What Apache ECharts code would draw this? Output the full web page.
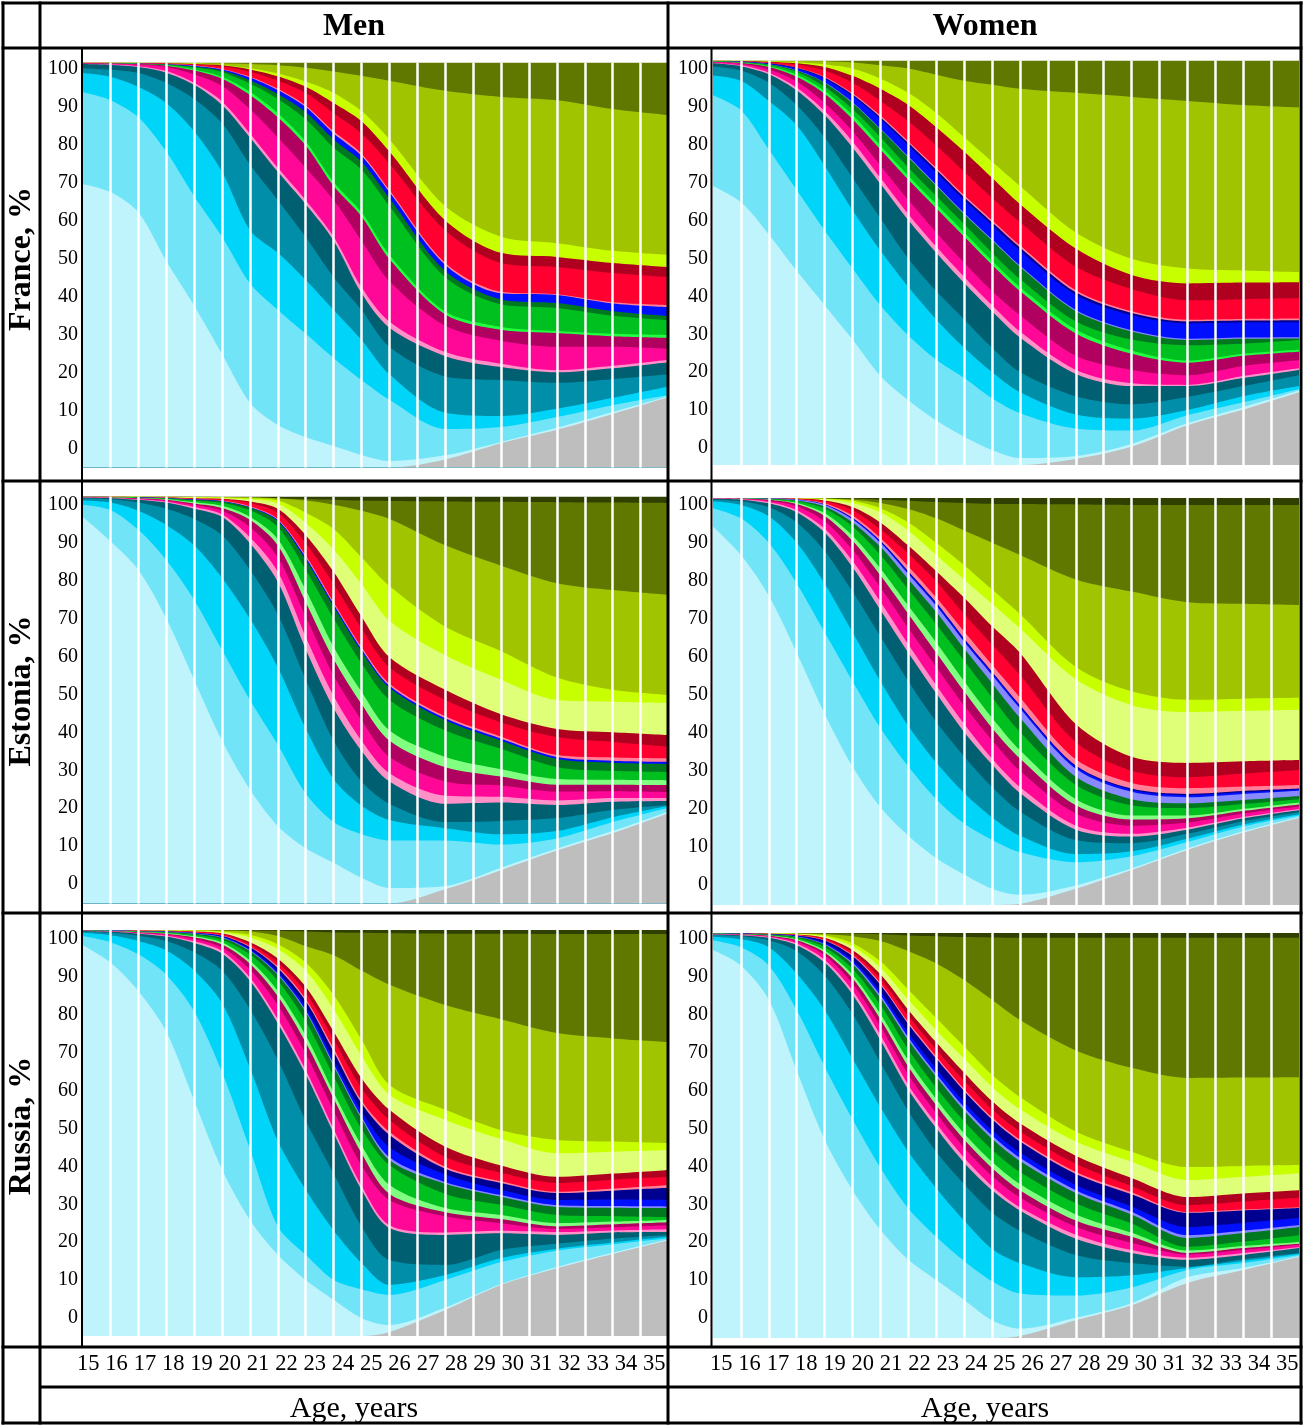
<!DOCTYPE html>
<html>
<head>
<meta charset="utf-8">
<script src="https://cdn.jsdelivr.net/npm/echarts@6/dist/echarts.min.js"></script>
<style>
html, body { margin: 0; padding: 0; background: #fff; }
#main { width: 1303px; height: 1425px; }
</style>
</head>
<body>
<div id="main"></div>
<script>
// ages at which the shares were read (year boundaries)
var ages = [15, 16, 17, 18, 19, 20, 21, 22, 23, 24, 25, 26, 28, 30, 32, 34, 36];
var ageLabels = ['15','16','17','18','19','20','21','22','23','24','25','26','27','28','29','30','31','32','33','34','35'];
var yTickValues = [0, 10, 20, 30, 40, 50, 60, 70, 80, 90, 100];

// cumulative share (%) at the top of each state, bottom state first
var franceMen = [
    ['grey',          [0,0,0,0,0,0,0,0,0,0,0,0,2,6,9.3,13.2,17.4]],
    ['veryLightCyan', [70,68,63,51,40,28,16,10.5,7.5,5.3,3.1,1.6,3,6.3,9.8,13.7,17.6]],
    ['lightCyan',     [92.7,90.7,86.5,78,67,57,45.5,38.9,33,27,21.6,16.7,9.5,10,12.5,15.4,17.9]],
    ['cyan',          [97.4,96.5,94,90,83,73,58.6,53,46.3,38.9,31.5,23,13.5,12.7,14.5,17.2,20]],
    ['teal',          [98.6,98.2,97.4,95,91,85,74.8,66,56.9,47,38.9,29.8,22.5,21.6,20.9,21.8,23]],
    ['darkTeal',      [99.6,99.4,98.9,97.5,94.5,89.5,81.5,73,65,56,43,34.5,27.5,24.8,23.5,24.5,26]],
    ['lightPink',     [99.65,99.5,99.1,97.9,95,90.4,82.5,74,66,57,44.5,36,28.5,25.6,24,25.1,26.6]],
    ['hotPink',       [99.75,99.7,99.5,98.9,97.1,94.2,88.5,81.5,74,66,56,46,35,31.3,29.8,29.8,29.3]],
    ['darkMagenta',   [99.8,99.75,99.6,99.2,98,96,92,86.5,79.5,69.5,62,51.5,37.8,34,33.2,32.4,32]],
    ['brightGreen',   [99.82,99.78,99.65,99.3,98.3,96.5,92.8,87.5,80.5,70.5,63,52.5,38.5,34.7,33.7,33,32.7]],
    ['green',         [99.85,99.8,99.7,99.45,98.8,97.6,94.8,91,86,79,73.5,64.5,47,40.3,39.4,37.5,36.4]],
    ['darkGreen',     [99.87,99.82,99.72,99.5,99,98,95.6,92.2,87.7,81,75.5,66.5,48.5,41.5,40.6,38.6,37.4]],
    ['blue',          [99.88,99.84,99.75,99.55,99.2,98.3,96.3,93.2,89,82.5,77,68,50,43,42.6,40.5,39.6]],
    ['pinkRed',       [99.89,99.85,99.77,99.6,99.3,98.4,96.5,93.5,89.4,83,77.5,68.5,50.5,43.4,42.8,40.8,40.1]],
    ['red',           [99.92,99.9,99.85,99.75,99.5,99,97.7,95.5,92.5,87.5,82.5,75,58.5,50.5,49.5,48,47]],
    ['darkRed',       [99.94,99.92,99.9,99.8,99.6,99.3,98.3,96.6,94,90,85.5,78,61,53,52,50.5,49.5]],
    ['lime',          [99.96,99.95,99.93,99.87,99.75,99.4,98.6,97.3,95.3,92.5,88,81,64.5,57,55.4,53.5,52.5]],
    ['olive',         [99.98,99.98,99.97,99.95,99.9,99.8,99.6,99.3,98.7,97.8,96.7,95.5,93,91.5,90.7,88.5,87]],
    ['darkOlive',     [100,100,100,100,100,100,100,100,100,100,100,100,100,100,100,100,100]]
];

var franceWomen = [
    ['grey',          [0,0,0,0,0,0,0,0,0,0,0,0,1.5,4.5,9.8,13.7,18]],
    ['veryLightCyan', [69,65,57,48,39.5,31,22,16,11,7,3.7,1.7,2.2,5.2,10.3,14.3,18.4]],
    ['lightCyan',     [91.4,87.7,78,68,58,48.6,39.5,32,26,21.5,16.5,12.8,9,8.5,12.3,15.5,18.8]],
    ['cyan',          [96.3,95,90,84,74,63,53,44,36,29,23,18,12.5,11.5,13.6,17,19.5]],
    ['teal',          [98.5,97.5,94.5,89,81,71,61,51,43,36,29,23,17,15,16.8,19.5,22.2]],
    ['darkTeal',      [99.3,98.6,96.6,92.6,86.5,78.5,69.5,60.5,52.5,45,38,31.5,22.5,19.5,19.5,21.5,23.5]],
    ['lightPink',     [99.4,98.8,97,93.3,87.5,80,71,62,54,46.5,39.5,33,23.5,20.2,19.8,22,23.9]],
    ['hotPink',       [99.6,99.2,97.8,94.8,89.5,82.5,74,65.5,57.5,50,43,37,27,23.5,22.2,24.5,25.9]],
    ['darkMagenta',   [99.7,99.4,98.4,96,91.8,85.5,78,70.5,63.5,56.5,49.5,43,32.5,27.5,25.3,27,28]],
    ['brightGreen',   [99.75,99.45,98.6,96.5,92.5,86.5,79,71.5,64.5,57.5,50.5,44,33.5,28.3,25.8,27.5,28.5]],
    ['green',         [99.8,99.55,98.9,97.2,93.5,88,81,73.5,66.5,59.5,52.5,46,35.5,31,29.6,30,30.9]],
    ['darkGreen',     [99.85,99.6,99,97.5,94.5,89.5,83,76,69,62,55.5,49,38,33,30.9,31.2,31.3]],
    ['lavender',      [99.86,99.62,99.05,97.6,94.6,89.7,83.2,76.3,69.3,62.3,55.8,49.3,38.3,33.3,31.2,31.5,31.6]],
    ['blue',          [99.87,99.7,99.2,98,95.5,91.2,85.5,79,72.3,65.5,59.3,53,42,37,35,35.2,35.3]],
    ['navy',          [99.88,99.73,99.3,98.2,95.8,91.6,86,79.6,73,66.2,60,53.8,42.7,37.6,35.5,35.7,35.8]],
    ['pinkRed',       [99.89,99.75,99.35,98.3,96,91.9,86.4,80,73.5,66.7,60.5,54.3,43.2,38,35.9,36.1,36.2]],
    ['red',           [99.92,99.82,99.55,99,97.5,94.5,90,85,79,72.5,66,60,49,43.5,40.7,41,41.2]],
    ['darkRed',       [99.94,99.88,99.7,99.3,98.4,96.2,93,89,83.5,77.5,71,64.5,53.5,47,44.9,45.1,45.2]],
    ['lime',          [99.96,99.92,99.8,99.55,99,98,95.5,92,87,81,75,69,57.5,51,48.6,48.1,47.7]],
    ['olive',         [99.98,99.97,99.95,99.9,99.8,99.5,98.8,98,96.5,95,94,93,92,91,90,89,88.4]],
    ['darkOlive',     [100,100,100,100,100,100,100,100,100,100,100,100,100,100,100,100,100]]
];

var estoniaMen = [
    ['grey',          [0,0,0,0,0,0,0,0,0,0,0,0,3.5,8.2,13,17.3,22.2]],
    ['veryLightCyan', [95,89,82,70,55,40,28,19,13.6,10,6.3,3.8,4.3,8.8,13.5,17.8,22.6]],
    ['lightCyan',     [98,96.7,91.8,84.4,74.6,62.3,50,39,27,20,17,15.5,15.5,14.5,16,20,23.5]],
    ['cyan',          [99,98.5,96.5,93,88,80,70,58,43,30.5,24,20.5,18.5,17,17.8,21.2,24]],
    ['teal',          [99.5,99.3,98.5,97,94.5,90.5,82,71,55,40,30,24.5,20,20.3,21,23,24.2]],
    ['darkTeal',      [99.7,99.6,99.2,98.5,97,95,88.5,79,62.5,48,37.5,30,24.5,24.8,24.2,25,25.2]],
    ['lightPink',     [99.75,99.65,99.3,98.7,97.4,95.6,90,81.5,65.5,51,40,32,26.5,26.2,25.3,25.9,25.9]],
    ['hotPink',       [99.8,99.7,99.45,99,97.9,96.5,92.5,85,70.5,56,45,36,30,29,27.5,27.6,27.4]],
    ['darkMagenta',   [99.83,99.75,99.55,99.2,98.3,97.2,94.3,88,74,60,49,40,33.5,31.2,29.2,29.2,29.1]],
    ['lightGreen',    [99.86,99.8,99.62,99.35,98.6,97.7,95,89.5,77,63,52,42.5,36,33,30.6,30.4,30.3]],
    ['green',         [99.9,99.85,99.72,99.5,99,98.4,96.6,92.5,82,70,59,50,42.5,38,33.5,32.6,32.3]],
    ['darkGreen',     [99.92,99.88,99.78,99.6,99.2,98.8,97.3,94,84.5,73,62,53,45,40,35.5,34.6,34.3]],
    ['blue',          [99.93,99.9,99.8,99.65,99.3,98.9,97.4,94.2,85,73.5,62.5,53.5,45.5,40.5,36,35.1,34.8]],
    ['pinkRed',       [99.94,99.91,99.82,99.7,99.35,99,97.6,94.5,85.5,74,63,54,46,41,36.5,35.9,35.7]],
    ['red',           [99.95,99.93,99.87,99.78,99.5,99.3,98.4,96,88.5,78.5,67.5,58,50,44.5,40.9,39.7,38.5]],
    ['darkRed',       [99.96,99.95,99.9,99.83,99.6,99.45,98.8,97,90.5,81.5,70.5,60.5,52.5,46.5,42.9,42.1,41.4]],
    ['paleYellow',    [99.97,99.96,99.93,99.88,99.75,99.6,99.3,98.3,93.5,87,78.5,69.5,61,55,50,49.6,49.3]],
    ['lime',          [99.98,99.97,99.95,99.92,99.85,99.75,99.55,99,96,92,85,78,68,62,55.5,52.5,51.2]],
    ['olive',         [99.99,99.985,99.97,99.96,99.93,99.9,99.8,99.5,99,98,96.5,94.5,88,83,78.7,77,75.8]],
    ['darkOlive',     [99.995,99.99,99.98,99.97,99.95,99.9,99.8,99.6,99.4,99.2,99,98.9,98.8,98.7,98.6,98.5,98.4]],
    ['deepOlive',     [100,100,100,100,100,100,100,100,100,100,100,100,100,100,100,100,100]]
];

var estoniaWomen = [
    ['grey',          [0,0,0,0,0,0,0,0,0,0,0,0.3,4,8.6,13.5,17.8,21.4]],
    ['veryLightCyan', [93,86,76,62,47,34,24,17,11.5,7.5,4,2.5,4.8,9,13.9,18.1,21.6]],
    ['lightCyan',     [97.5,95,89,79,67,55,43.5,34,26,20,16,13,10.5,12,15.5,19.3,22]],
    ['cyan',          [99.2,98.3,95.5,89,79,67,55,44,35,27.5,21.5,17,12.5,13.2,16.3,19.8,22.3]],
    ['teal',          [99.6,99.2,97.7,94,87,77,66,55,45,36.5,29,23,16,15.2,17.5,20.6,22.8]],
    ['darkTeal',      [99.8,99.6,98.7,96.5,91.5,83,72.5,62,52,42.5,34.5,27.5,18.5,16.8,18.5,21.3,23.3]],
    ['lightPink',     [99.85,99.7,99,97,92.5,84.5,74.5,64,54,44.5,36,29,19.5,17.5,19,21.6,23.6]],
    ['hotPink',       [99.9,99.8,99.35,98,94.3,87.3,78,68,58.5,49,40.5,33,22.5,19.5,20.3,22.5,24.2]],
    ['darkMagenta',   [99.92,99.85,99.55,98.5,95.6,89.5,81,71.5,62,52.5,43.5,36,24.5,21,21.3,23.1,24.7]],
    ['lightGreen',    [99.93,99.88,99.65,98.8,96.3,90.7,82.7,73.5,64.5,55,46,38,26,22,22,23.6,25.2]],
    ['green',         [99.94,99.9,99.75,99.2,97.4,93,86,77.5,69,60,51,42.5,29.5,24.5,23.8,24.8,26]],
    ['darkGreen',     [99.95,99.92,99.82,99.4,97.9,94,88,80,72,63,54.5,46,31.5,26,25,25.8,26.8]],
    ['lavender',      [99.955,99.93,99.86,99.55,98.3,94.8,89,81.3,73.5,64.7,56.5,48.3,33.5,27.8,26.5,27.3,28.1]],
    ['blue',          [99.96,99.94,99.88,99.6,98.4,95,89.3,81.7,74,65.2,57,48.8,34,28.3,27,27.7,28.4]],
    ['navy',          [99.962,99.945,99.89,99.62,98.45,95.1,89.5,82,74.3,65.5,57.3,49.1,34.3,28.6,27.3,28,28.6]],
    ['pinkRed',       [99.965,99.95,99.91,99.7,98.7,95.7,90.2,83.2,75.6,67.2,59,51,35.8,30,28.7,29.1,29.5]],
    ['red',           [99.97,99.96,99.94,99.82,99.2,97,92.3,86.3,79.5,71.5,64,56.5,40,33,31.4,32.3,33.2]],
    ['darkRed',       [99.975,99.97,99.95,99.85,99.4,97.8,94,88.3,82,75.5,68.5,62,44.5,36.4,34.9,35.3,35.6]],
    ['paleYellow',    [99.98,99.975,99.96,99.9,99.7,98.8,96.5,92,86,80,74,68,55.5,49.1,47.4,47.7,48]],
    ['lime',          [99.985,99.98,99.97,99.93,99.8,99.3,97.5,94,89,83.5,77.5,71.5,58.5,52.5,50.4,50.7,50.9]],
    ['olive',         [99.99,99.985,99.975,99.96,99.9,99.6,98.8,97.3,95,92,89,86,80,77,74.4,74,73.7]],
    ['darkOlive',     [99.995,99.993,99.99,99.98,99.95,99.85,99.6,99.3,99,98.8,98.6,98.5,98.4,98.3,98.3,98.3,98.3]],
    ['deepOlive',     [100,100,100,100,100,100,100,100,100,100,100,100,100,100,100,100,100]]
];

var russiaMen = [
    ['grey',          [0,0,0,0,0,0,0,0,0,0,0,1,6.4,12.6,16.7,20.2,23.6]],
    ['veryLightCyan', [96.3,92,85,75,58,41,28.6,20,13.8,8.9,4.4,2.7,7,12.8,17,20.5,23.8]],
    ['lightCyan',     [98.5,97,94,89,80,65,46,27,20,13.8,11.5,10.1,13.8,18.2,21,22.6,24.1]],
    ['cyan',          [99.3,98.7,97.3,95,90,82,66,48,36,26,18,12.6,15,19.2,21.5,23,24.5]],
    ['teal',          [99.6,99.3,98.6,97.3,94.5,90,80.5,68,53,40,27,18.7,17.5,21.2,22.7,24,24.9]],
    ['darkTeal',      [99.75,99.55,99.1,98.4,96.8,94.2,87.5,77,64.5,50,36,26.6,24.9,25.3,24.9,25.5,25.6]],
    ['lightPink',     [99.78,99.6,99.2,98.6,97.2,94.8,88.3,78,65.5,51,37,27.3,25.5,25.9,25.6,26,26.3]],
    ['hotPink',       [99.82,99.67,99.35,98.9,97.8,95.7,90.3,81.5,69.5,55.5,42,33.5,29.5,27.8,26.4,26.8,27.3]],
    ['darkMagenta',   [99.85,99.72,99.45,99.1,98.2,96.4,91.7,83.7,72.3,58.5,45,35,30.5,28.8,27,27.5,28]],
    ['lightGreen',    [99.87,99.76,99.52,99.22,98.45,96.9,92.5,85,74,60,47,37.2,31.5,29.8,27.8,28.2,28.6]],
    ['green',         [99.9,99.82,99.63,99.4,98.85,97.6,94,87.5,77.5,64,51,42.1,35,32.3,29.8,29.5,29.3]],
    ['darkGreen',     [99.92,99.86,99.7,99.52,99.1,98.1,94.8,88.9,79.8,66.5,53.5,43.3,37.5,34.3,31.8,31.6,31.5]],
    ['lavender',      [99.925,99.87,99.72,99.55,99.15,98.2,95,89.2,80.2,67,54,44,37.9,34.7,32.2,32,31.9]],
    ['blue',          [99.93,99.88,99.75,99.6,99.25,98.4,95.3,89.7,81,68,55.3,46.5,39.8,36,33.5,33.6,33.5]],
    ['navy',          [99.94,99.9,99.78,99.65,99.35,98.6,95.8,90.6,82.5,70,57.3,49.5,41.2,37.7,35.2,35.8,36.5]],
    ['pinkRed',       [99.945,99.91,99.8,99.68,99.4,98.7,96,91,83,70.8,58,50.3,41.7,38.1,35.5,36.3,37.2]],
    ['red',           [99.955,99.93,99.85,99.75,99.55,99,96.5,92,84.6,73,61,53.2,44.1,40.2,37.7,38.5,39.2]],
    ['darkRed',       [99.965,99.945,99.88,99.8,99.65,99.2,97,93,86,75,63.5,55.7,46.6,42,39.2,40,40.9]],
    ['paleYellow',    [99.975,99.96,99.92,99.87,99.75,99.45,98.2,95.3,90,80.5,69,59.4,53.2,48.5,45,45.4,45.8]],
    ['lime',          [99.985,99.975,99.95,99.92,99.85,99.65,98.8,96.5,92,84,73,61.8,55.7,50.7,48.3,47.9,47.5]],
    ['olive',         [99.99,99.985,99.975,99.96,99.93,99.85,99.6,98.5,96,93.8,90,86.5,81.5,78,74.6,73.3,72.4]],
    ['darkOlive',     [99.995,99.993,99.99,99.985,99.98,99.96,99.9,99.8,99.6,99.4,99.3,99.2,99.1,99.05,99,99,99]],
    ['deepOlive',     [100,100,100,100,100,100,100,100,100,100,100,100,100,100,100,100,100]]
];

var russiaWomen = [
    ['grey',          [0,0,0,0,0,0,0,0,0,0,0,0.5,4.4,8.1,13.6,16.8,20]],
    ['veryLightCyan', [95.8,92,83.5,66,49,36.5,26.7,19.3,14.3,9.4,4.4,2.3,5,8.6,15,17.3,20.2]],
    ['lightCyan',     [98.2,96.5,92,81,67,54,42,32,25,19,14,11,10.5,12.5,16.8,18.5,20.5]],
    ['cyan',          [99.1,98.5,96.5,90,81,69,57,46,37,29,22,18.5,15,15.5,17.3,19,20.8]],
    ['teal',          [99.5,99.2,98.2,95.5,89.5,80,68,56,46,38,31,26.5,20.5,18.5,17.6,19.5,21]],
    ['darkTeal',      [99.65,99.45,98.8,97,92.7,84.8,73.5,61.3,51.8,43.3,36.5,31.5,24.5,21,19.3,20.5,22.2]],
    ['lightPink',     [99.7,99.5,99,97.4,93.4,85.8,74.8,62.5,53,44.5,37.5,32.3,25.5,21.7,19.8,21,22.5]],
    ['hotPink',       [99.75,99.6,99.2,97.9,94.5,87.5,77,65,55.5,47,40,34.7,27.5,23.5,20.6,21.7,23]],
    ['darkMagenta',   [99.8,99.65,99.3,98.2,95.2,88.8,78.7,67,57.5,49,42,36.5,29,25,21,22.2,23.3]],
    ['lightGreen',    [99.82,99.7,99.4,98.45,95.7,89.7,80,68.5,59,50.5,43.5,38,30.5,26,21.6,22.7,23.7]],
    ['green',         [99.85,99.75,99.5,98.8,96.5,91.2,82.2,71.2,61.8,53.5,46.5,41,33.3,28.3,22.5,23.8,25.4]],
    ['darkGreen',     [99.88,99.8,99.6,99.05,97.1,92.3,84,73.5,64.5,56.2,49.2,43.7,35.8,30.5,24.7,25.9,27.4]],
    ['lavender',      [99.89,99.82,99.63,99.15,97.3,92.7,84.6,74.2,65.2,57,50,44.5,36.5,31.2,25.4,26.5,27.9]],
    ['blue',          [99.9,99.84,99.67,99.25,97.6,93.3,85.5,75.3,66.5,58.3,51.3,45.8,37.8,32.5,27.4,28.4,29.6]],
    ['navy',          [99.92,99.87,99.73,99.4,98.15,94.3,87.2,77.5,69,61,54,48.5,40.5,35.5,30.9,31.5,32.1]],
    ['pinkRed',       [99.93,99.88,99.75,99.45,98.3,94.6,87.6,78,69.5,61.5,54.5,49,41,36,31.1,31.7,32.3]],
    ['red',           [99.94,99.9,99.8,99.55,98.55,95.2,88.7,79.5,71.2,63.5,56.5,51,43,37.5,32.8,33.7,34.6]],
    ['darkRed',       [99.95,99.92,99.84,99.65,98.8,95.8,89.8,81,73,65.5,58.5,53,45,39.5,34.8,35.7,36.5]],
    ['paleYellow',    [99.96,99.94,99.88,99.75,99.1,96.7,91.5,83.5,76,69,62,56.5,48.5,43.5,39,39.8,40.7]],
    ['lime',          [99.97,99.96,99.92,99.82,99.4,97.5,93,86,79,72,65,59.5,51,46,42.2,42.5,42.7]],
    ['olive',         [99.98,99.97,99.95,99.9,99.7,99.2,98,95.5,92.5,88.4,83.5,78.5,71,66.7,64.2,64.3,64.4]],
    ['darkOlive',     [99.99,99.985,99.98,99.97,99.95,99.9,99.7,99.4,99.2,99,98.9,98.8,98.8,98.8,98.8,98.8,98.8]],
    ['deepOlive',     [100,100,100,100,100,100,100,100,100,100,100,100,100,100,100,100,100]]
];

var stateColors = {
    grey: '#bebebe', veryLightCyan: '#bff4fc', lightCyan: '#72e4f8', cyan: '#00d4f8',
    teal: '#008ea8', darkTeal: '#005f70', lightPink: '#ff90c8', hotPink: '#ff0898',
    darkMagenta: '#b00060', brightGreen: '#20ff40', lightGreen: '#80ff80', green: '#00c020',
    darkGreen: '#007820', lavender: '#8888ff', blue: '#0010ff', navy: '#000090',
    pinkRed: '#ff8098', red: '#ff0030', darkRed: '#b00020', paleYellow: '#e0ff78',
    lime: '#c8ff00', olive: '#a0c400', darkOlive: '#607800', deepOlive: '#304000'
};

var panels = [franceMen, franceWomen, estoniaMen, estoniaWomen, russiaMen, russiaWomen];
// plot boxes: left, top, width, height
var dataBoxes = [
    [82.5, 62.5, 586, 405], [713, 60.5, 586, 404.5],
    [82.5, 496.5, 586, 407], [713, 498, 586, 407],
    [82.5, 930, 586, 406], [713, 933, 586, 405]
];
// y label boxes: left, y of 100, y of 0
var labelBoxes = [
    [83, 69, 449], [713, 69, 448],
    [83, 505, 884], [713, 505, 885],
    [83, 939, 1318], [713, 939, 1318]
];
var serif = '"Liberation Serif", "Times New Roman", serif';

var grids = [], xAxes = [], yAxes = [], series = [];

panels.forEach(function (rows, i) {
    var b = dataBoxes[i];
    grids.push({left: b[0], top: b[1], width: b[2], height: b[3]});
    xAxes.push({
        gridIndex: i, type: 'value', min: 15, max: 36, interval: 1, z: 10,
        axisLine: {show: false}, axisTick: {show: false}, axisLabel: {show: false},
        splitLine: {show: true, showMinLine: false, showMaxLine: false,
            lineStyle: {color: '#ffffff', width: 2.5}}
    });
    yAxes.push({gridIndex: i, type: 'value', min: 0, max: 100, show: false});
    // top state first, so each lower state is painted over it
    for (var k = rows.length - 1; k >= 0; k--) {
        var name = rows[k][0], vals = rows[k][1];
        series.push({
            type: 'line', name: name, xAxisIndex: i, yAxisIndex: i,
            data: ages.map(function (a, j) { return [a, vals[j]]; }),
            smooth: 0.3, symbol: 'none', silent: true,
            lineStyle: {width: 0, opacity: 0},
            areaStyle: {color: stateColors[name], opacity: 1}
        });
    }
});

labelBoxes.forEach(function (b) {
    var gi = grids.length;
    grids.push({left: b[0], top: b[1], width: 10, height: b[2] - b[1]});
    xAxes.push({gridIndex: gi, type: 'value', show: false});
    yAxes.push({
        gridIndex: gi, type: 'value', min: 0, max: 100, interval: 10,
        axisLine: {show: false}, axisTick: {show: false}, splitLine: {show: false},
        axisLabel: {color: '#000', fontSize: 20, fontFamily: serif, margin: 5,
            formatter: function (v) { return yTickValues.indexOf(v) >= 0 ? String(v) : ''; }}
    });
});

[[74.15, 594.3], [707.15, 594.3]].forEach(function (b) {
    var gi = grids.length;
    grids.push({left: b[0], top: 1300, width: b[1], height: 47});
    xAxes.push({
        gridIndex: gi, type: 'category', data: ageLabels, boundaryGap: true,
        axisLine: {show: false}, axisTick: {show: false}, splitLine: {show: false},
        axisLabel: {color: '#000', fontSize: 22.5, fontFamily: serif, margin: 6, interval: 0}
    });
    yAxes.push({gridIndex: gi, type: 'value', show: false});
});

// table rules
var graphic = [];
function rule(x1, y1, x2, y2, w) {
    graphic.push({type: 'line', z: 100, silent: true,
        shape: {x1: x1, y1: y1, x2: x2, y2: y2},
        style: {stroke: '#000', lineWidth: w}});
}
[3, 48, 481, 913, 1347, 1423].forEach(function (y) { rule(1.5, y, 1302.5, y, 3); });
rule(40, 1387, 1302.5, 1387, 3);
[3, 40, 668, 1301].forEach(function (x) { rule(x, 1.5, x, 1424.5, 3); });
rule(82, 48, 82, 1347, 2);
rule(711.5, 48, 711.5, 1347, 2);

function label(text, x, y, font, rot) {
    graphic.push({type: 'text', z: 100, silent: true, x: x, y: y, rotation: rot || 0,
        style: {text: text, font: font, fill: '#000',
            align: 'center', verticalAlign: 'middle',
            textAlign: 'center', textVerticalAlign: 'middle'}});
}
label('Men', 354, 27, 'bold 32px ' + serif);
label('Women', 985, 27, 'bold 32px ' + serif);
label('France, %', 22, 259, 'bold 32px ' + serif, Math.PI / 2);
label('Estonia, %', 22, 691, 'bold 32px ' + serif, Math.PI / 2);
label('Russia, %', 22, 1126, 'bold 32px ' + serif, Math.PI / 2);
label('Age, years', 354, 1409, '30px ' + serif);
label('Age, years', 985, 1409, '30px ' + serif);

var myChart = echarts.init(document.getElementById('main'), null, {renderer: 'canvas'});
myChart.setOption({
    animation: false,
    backgroundColor: '#ffffff',
    grid: grids,
    xAxis: xAxes,
    yAxis: yAxes,
    series: series,
    graphic: graphic
});
</script>
</body>
</html>
